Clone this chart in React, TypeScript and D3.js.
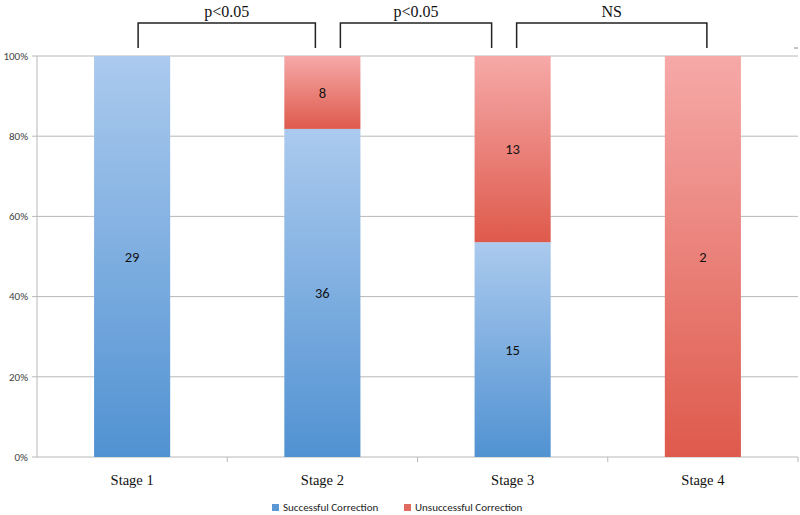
import React from "react";
import * as d3 from "d3";

const categories = ["Stage 1", "Stage 2", "Stage 3", "Stage 4"];
const successful = [29, 36, 15, 0];
const unsuccessful = [0, 8, 13, 2];
const yTicks = [0, 0.2, 0.4, 0.6, 0.8, 1.0];
const seriesNames = ["Successful Correction", "Unsuccessful Correction"];
const comparisons = [
  { from: 0, to: 1, label: "p<0.05" },
  { from: 1, to: 2, label: "p<0.05" },
  { from: 2, to: 3, label: "NS" },
];

export default function App() {
  const W = 800, H = 515;
  const left = 37, right = 798, top = 56, bottom = 457;
  const x = d3.scaleBand().domain(categories).range([left, right]).paddingInner(0.6).paddingOuter(0.3);
  const band = d3.scaleBand().domain(categories).range([left, right]);
  const y = d3.scaleLinear().domain([0, 1]).range([bottom, top]);
  const sans = "Carlito, Calibri, 'Open Sans', 'DejaVu Sans', sans-serif";
  const serif = "'Liberation Serif', 'Times New Roman', serif";

  const rows = categories.map((c, i) => {
    const tot = successful[i] + unsuccessful[i];
    return { c, s: successful[i], u: unsuccessful[i], sf: successful[i] / tot, uf: unsuccessful[i] / tot };
  });

  const bx = (i: number) => x(categories[i])! + x.bandwidth() / 2;
  const bracketOffsetsL = [6, 18, 4];
  const bracketOffsetsR = [-7, -21, 4];
  const bracketTop = 23, bracketBot = 48;

  return (
    <svg width={W} height={H} style={{ position: "absolute", left: 0, top: 0, background: "#fff" }}>
      <defs>
        <linearGradient id="gBlue" x1="0" y1="0" x2="0" y2="1">
          <stop offset="0%" stopColor="#abcaee" />
          <stop offset="100%" stopColor="#5192d2" />
        </linearGradient>
        <linearGradient id="gRed" x1="0" y1="0" x2="0" y2="1">
          <stop offset="0%" stopColor="#f6a9a8" />
          <stop offset="100%" stopColor="#de5a4c" />
        </linearGradient>
      </defs>
      {yTicks.map((t) => (
        <g key={t}>
          <line x1={left - 5} x2={right} y1={y(t)} y2={y(t)} stroke="#b8b8b8" strokeWidth={1} />
          <text x={left - 9} y={y(t)} dy="0.35em" textAnchor="end" fontFamily={sans} fontSize={11} fill="#444">
            {`${Math.round(t * 100)}%`}
          </text>
        </g>
      ))}
      <line x1={left} x2={left} y1={top} y2={bottom} stroke="#b8b8b8" />
      {categories.map((c, i) => (
        <line key={c} x1={band(c)! + band.bandwidth()} x2={band(c)! + band.bandwidth()} y1={bottom} y2={bottom + 5} stroke="#b8b8b8" />
      ))}
      {rows.map((r, i) => {
        const x0 = x(r.c)!;
        const w = x.bandwidth();
        return (
          <g key={r.c}>
            {r.s > 0 && (
              <rect x={x0} y={y(r.sf)} width={w} height={y(0) - y(r.sf)} fill="url(#gBlue)" />
            )}
            {r.u > 0 && (
              <rect x={x0} y={y(1)} width={w} height={y(r.sf) - y(1)} fill="url(#gRed)" />
            )}
            {r.s > 0 && (
              <text x={x0 + w / 2} y={(y(0) + y(r.sf)) / 2} dy="0.35em" textAnchor="middle" fontFamily={sans} fontSize={14.5} fill="#111">
                {r.s}
              </text>
            )}
            {r.u > 0 && (
              <text x={x0 + w / 2} y={(y(1) + y(r.sf)) / 2} dy="0.35em" textAnchor="middle" fontFamily={sans} fontSize={14.5} fill="#111">
                {r.u}
              </text>
            )}
            <text x={x0 + w / 2} y={480} dy="0.35em" textAnchor="middle" fontFamily={serif} fontSize={14.5} fill="#111">
              {r.c}
            </text>
          </g>
        );
      })}
      {comparisons.map((cmp, k) => {
        const x1 = bx(cmp.from) + bracketOffsetsL[k];
        const x2 = bx(cmp.to) + bracketOffsetsR[k];
        return (
          <g key={k}>
            <path d={`M${x1},${bracketBot}V${bracketTop}H${x2}V${bracketBot}`} fill="none" stroke="#222" strokeWidth={1.5} />
            <text x={(x1 + x2) / 2} y={11} dy="0.35em" textAnchor="middle" fontFamily={serif} fontSize={16} fill="#111">
              {cmp.label}
            </text>
          </g>
        );
      })}
      <line x1={right - 4} x2={right} y1={top - 8} y2={top - 8} stroke="#888" />
      {seriesNames.map((s, i) => {
        const lx = i === 0 ? 272 : 404;
        return (
          <g key={s}>
            <rect x={lx} y={504} width={7} height={7} fill={i === 0 ? "#5b97d4" : "#e06a60"} />
            <text x={lx + 11} y={507.5} dy="0.35em" fontFamily={sans} fontSize={11} fill="#222">
              {s}
            </text>
          </g>
        );
      })}
    </svg>
  );
}
